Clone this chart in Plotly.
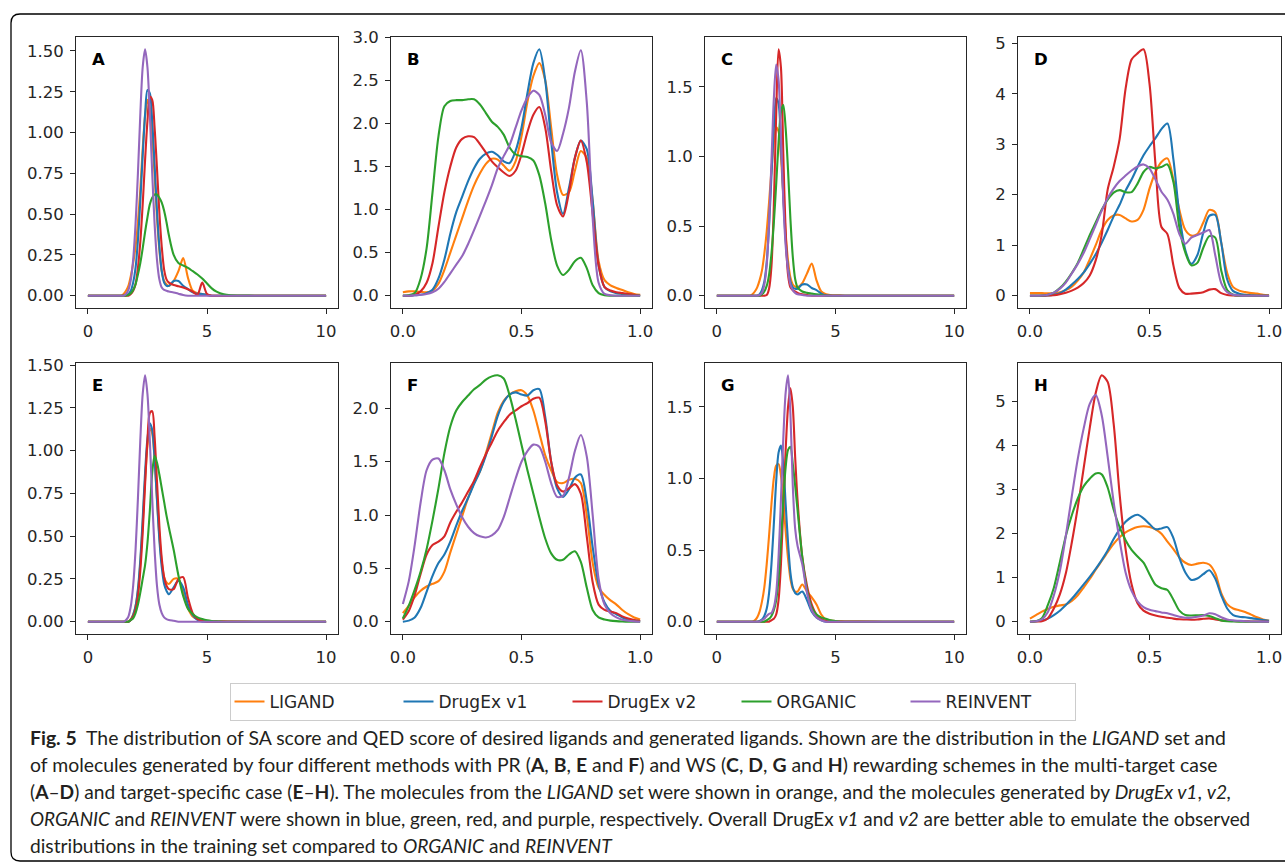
import plotly.graph_objects as go

W, H = 1285, 862

SERIES = ["LIGAND", "DrugEx v1", "DrugEx v2", "ORGANIC", "REINVENT"]
COLORS = ["#ff7f0e", "#1f77b4", "#d62728", "#2ca02c", "#9467bd"]

# SA score grid (panels A, C, E, G)
SA_X = [0, 1.0, 1.4, 1.5, 1.6, 1.7, 1.8, 1.9, 2.0, 2.1, 2.2, 2.3, 2.4, 2.5, 2.6, 2.7, 2.8, 2.9,
        3.0, 3.1, 3.2, 3.3, 3.4, 3.6, 3.8, 4.0, 4.2, 4.4, 4.6, 4.8, 5.0, 5.2, 5.4, 5.7, 6.0, 7.0, 10.0]
# QED score grid (panels B, D, F, H)
QED_X = [0.0, 0.025, 0.05, 0.075, 0.1, 0.125, 0.15, 0.175, 0.2, 0.225, 0.25, 0.275, 0.3, 0.325,
         0.35, 0.375, 0.4, 0.425, 0.45, 0.475, 0.5, 0.525, 0.55, 0.575, 0.6, 0.625, 0.65, 0.675,
         0.7, 0.725, 0.75, 0.775, 0.8, 0.825, 0.85, 0.875, 0.9, 0.925, 0.95, 0.975, 1.0]

# ---- Panel A (SA, PR, multi-target)
A_LIGAND = [0, 0, 0, 0.01, 0.03, 0.06, 0.12, 0.2, 0.3, 0.45, 0.65, 0.9, 1.1, 1.2, 1.15, 0.98, 0.74, 0.48,
            0.28, 0.15, 0.09, 0.07, 0.06, 0.09, 0.15, 0.23, 0.11, 0.03, 0.015, 0.01, 0.005, 0, 0, 0, 0, 0, 0]
A_V1 = [0, 0, 0, 0, 0.004, 0.01, 0.03, 0.08, 0.17, 0.34, 0.58, 0.86, 1.11, 1.26, 1.24, 1.07, 0.8, 0.52,
        0.3, 0.15, 0.08, 0.06, 0.06, 0.09, 0.09, 0.06, 0.04, 0.02, 0.012, 0.01, 0.005, 0, 0, 0, 0, 0, 0]
A_V2 = [0, 0, 0, 0, 0, 0, 0.01, 0.03, 0.07, 0.17, 0.33, 0.56, 0.83, 1.07, 1.22, 1.2, 1.03, 0.78,
        0.51, 0.3, 0.16, 0.1, 0.08, 0.065, 0.058, 0.05, 0.04, 0.025, 0.006, 0.08, 0.01, 0, 0, 0, 0, 0, 0]
A_ORGANIC = [0, 0, 0, 0, 0, 0.005, 0.015, 0.035, 0.07, 0.13, 0.2, 0.29, 0.39, 0.48, 0.56, 0.6, 0.62, 0.62,
             0.6, 0.57, 0.52, 0.45, 0.37, 0.25, 0.2, 0.185, 0.17, 0.15, 0.13, 0.105, 0.075, 0.045, 0.025,
             0.008, 0.002, 0, 0]
A_REINVENT = [0, 0, 0, 0, 0.01, 0.035, 0.095, 0.22, 0.44, 0.75, 1.11, 1.4, 1.51, 1.4, 1.11, 0.75, 0.44, 0.22,
              0.1, 0.05, 0.035, 0.03, 0.025, 0.02, 0.012, 0.004, 0, 0, 0, 0, 0, 0, 0, 0, 0, 0, 0]

# ---- Panel B (QED, PR, multi-target)
B_LIGAND = [0.04, 0.05, 0.05, 0.045, 0.04, 0.06, 0.14, 0.3, 0.5, 0.7, 0.9, 1.1, 1.28, 1.42, 1.53, 1.59,
            1.58, 1.51, 1.45, 1.56, 1.85, 2.25, 2.55, 2.7, 2.5, 1.95, 1.4, 1.17, 1.2, 1.45, 1.68, 1.6,
            1.1, 0.4, 0.18, 0.12, 0.09, 0.065, 0.04, 0.02, 0.01]
B_V1 = [0, 0, 0.005, 0.01, 0.03, 0.07, 0.2, 0.42, 0.72, 0.97, 1.15, 1.33, 1.48, 1.59, 1.65, 1.67, 1.63,
        1.56, 1.54, 1.68, 1.95, 2.35, 2.7, 2.86, 2.5, 1.8, 1.2, 0.95, 1.25, 1.6, 1.8, 1.7, 1.1, 0.35,
        0.1, 0.05, 0.03, 0.02, 0.01, 0.005, 0]
B_V2 = [0, 0, 0.01, 0.05, 0.15, 0.38, 0.8, 1.2, 1.5, 1.72, 1.82, 1.85, 1.84, 1.76, 1.66, 1.56, 1.49,
        1.43, 1.39, 1.45, 1.64, 1.9, 2.1, 2.19, 1.95, 1.45, 1.05, 0.92, 1.2, 1.6, 1.8, 1.55, 0.95, 0.35,
        0.1, 0.06, 0.04, 0.03, 0.02, 0.01, 0]
B_ORGANIC = [0, 0.005, 0.03, 0.2, 0.55, 1.2, 1.85, 2.2, 2.26, 2.27, 2.27, 2.28, 2.28, 2.22, 2.12, 2.02,
             1.96, 1.87, 1.72, 1.64, 1.62, 1.61, 1.57, 1.4, 1.07, 0.65, 0.35, 0.24, 0.3, 0.4, 0.44, 0.32,
             0.12, 0.03, 0.005, 0, 0, 0, 0, 0, 0]
B_REINVENT = [0, 0, 0.005, 0.01, 0.02, 0.04, 0.08, 0.16, 0.26, 0.36, 0.46, 0.6, 0.76, 0.93, 1.1, 1.28,
              1.48, 1.62, 1.75, 1.95, 2.15, 2.3, 2.38, 2.33, 2.1, 1.78, 1.68, 1.88, 2.18, 2.6, 2.85, 2.25,
              0.9, 0.15, 0.02, 0.005, 0, 0, 0, 0, 0]

# ---- Panel C (SA, WS, multi-target)
C_LIGAND = [0, 0, 0, 0.01, 0.03, 0.06, 0.11, 0.18, 0.3, 0.46, 0.67, 0.9, 1.1, 1.21, 1.18, 1.0, 0.72, 0.45,
            0.25, 0.13, 0.08, 0.065, 0.06, 0.09, 0.16, 0.23, 0.11, 0.03, 0.01, 0.005, 0.003, 0.002, 0, 0, 0, 0, 0]
C_V1 = [0, 0, 0, 0, 0, 0, 0.01, 0.04, 0.1, 0.24, 0.5, 0.86, 1.2, 1.42, 1.38, 1.1, 0.72, 0.4,
        0.2, 0.1, 0.06, 0.05, 0.05, 0.08, 0.08, 0.055, 0.04, 0.015, 0.003, 0, 0, 0, 0, 0, 0, 0, 0]
C_V2 = [0, 0, 0, 0, 0, 0, 0, 0, 0, 0.005, 0.05, 0.21, 0.64, 1.3, 1.77, 1.64, 1.02, 0.45,
        0.15, 0.06, 0.04, 0.03, 0.02, 0.01, 0.005, 0, 0, 0, 0, 0, 0, 0, 0, 0, 0, 0, 0]
C_ORGANIC = [0, 0, 0, 0, 0, 0, 0, 0.01, 0.03, 0.07, 0.15, 0.3, 0.52, 0.8, 1.1, 1.32, 1.37, 1.2,
             0.9, 0.55, 0.28, 0.12, 0.06, 0.03, 0.02, 0.015, 0.01, 0.005, 0, 0, 0, 0, 0, 0, 0, 0, 0]
C_REINVENT = [0, 0, 0, 0, 0, 0, 0.005, 0.02, 0.08, 0.22, 0.52, 0.96, 1.41, 1.66, 1.55, 1.15, 0.68, 0.36,
              0.18, 0.08, 0.04, 0.02, 0.01, 0.005, 0, 0, 0, 0, 0, 0, 0, 0, 0, 0, 0, 0, 0]

# ---- Panel D (QED, WS, multi-target)
D_LIGAND = [0.05, 0.05, 0.05, 0.045, 0.05, 0.07, 0.11, 0.18, 0.3, 0.46, 0.72, 1.0, 1.3, 1.5, 1.59, 1.6,
            1.53, 1.47, 1.5, 1.7, 2.12, 2.45, 2.65, 2.72, 2.3, 1.7, 1.3, 1.19, 1.22, 1.45, 1.7, 1.65,
            1.05, 0.45, 0.17, 0.1, 0.07, 0.05, 0.04, 0.02, 0.01]
D_V1 = [0, 0, 0, 0.005, 0.02, 0.05, 0.12, 0.22, 0.33, 0.46, 0.63, 0.82, 1.05, 1.3, 1.57, 1.8, 2.08,
        2.3, 2.55, 2.78, 2.96, 3.12, 3.3, 3.41, 2.7, 1.6, 0.9, 0.63, 0.8, 1.25, 1.58, 1.6, 1.05, 0.32,
        0.09, 0.04, 0.02, 0.01, 0, 0, 0]
D_V2 = [0, 0, 0, 0.005, 0.01, 0.03, 0.06, 0.1, 0.16, 0.25, 0.4, 0.7, 1.2, 2.1, 2.55, 3.1, 4.1, 4.68,
        4.8, 4.88, 4.2, 2.6, 1.36, 1.22, 0.6, 0.15, 0.04, 0.04, 0.05, 0.07, 0.12, 0.13, 0.05, 0.015,
        0.005, 0, 0, 0, 0, 0, 0]
D_ORGANIC = [0, 0, 0.005, 0.02, 0.06, 0.15, 0.28, 0.45, 0.65, 0.92, 1.2, 1.45, 1.7, 1.9, 2.04, 2.09,
             2.05, 2.05, 2.22, 2.45, 2.55, 2.52, 2.55, 2.6, 2.25, 1.35, 0.85, 0.6, 0.65, 0.95, 1.18, 1.15,
             0.5, 0.11, 0.02, 0.005, 0, 0, 0, 0, 0]
D_REINVENT = [0, 0, 0.005, 0.02, 0.06, 0.14, 0.26, 0.44, 0.63, 0.85, 1.12, 1.4, 1.68, 1.93, 2.12, 2.27,
              2.38, 2.48, 2.56, 2.6, 2.52, 2.3, 2.06, 1.9, 1.62, 1.22, 1.03, 1.15, 1.2, 1.25, 1.3, 0.8,
              0.25, 0.07, 0.02, 0.005, 0, 0, 0, 0, 0]

# ---- Panel E (SA, PR, target-specific)
E_LIGAND = [0, 0, 0, 0, 0, 0, 0.015, 0.04, 0.09, 0.18, 0.34, 0.57, 0.83, 1.03, 1.13, 1.1, 0.95, 0.72,
            0.5, 0.35, 0.26, 0.23, 0.22, 0.25, 0.25, 0.17, 0.08, 0.03, 0.015, 0.01, 0.005, 0.004, 0.003,
            0.003, 0.002, 0, 0]
E_V1 = [0, 0, 0, 0, 0, 0, 0.01, 0.04, 0.09, 0.19, 0.36, 0.6, 0.87, 1.07, 1.16, 1.12, 0.95, 0.71,
        0.48, 0.32, 0.22, 0.18, 0.16, 0.2, 0.24, 0.2, 0.1, 0.04, 0.01, 0, 0, 0, 0, 0, 0, 0, 0]
E_V2 = [0, 0, 0, 0, 0, 0, 0.01, 0.03, 0.07, 0.15, 0.3, 0.52, 0.8, 1.06, 1.22, 1.23, 1.08, 0.82,
        0.56, 0.37, 0.26, 0.21, 0.19, 0.19, 0.25, 0.26, 0.14, 0.05, 0.015, 0.005, 0, 0, 0, 0, 0, 0, 0]
E_ORGANIC = [0, 0, 0, 0, 0, 0, 0.01, 0.02, 0.05, 0.1, 0.17, 0.25, 0.33, 0.46, 0.65, 0.87, 0.97, 0.93,
             0.86, 0.78, 0.7, 0.62, 0.55, 0.42, 0.27, 0.15, 0.075, 0.045, 0.025, 0.015, 0.008, 0.004,
             0.002, 0, 0, 0, 0]
E_REINVENT = [0, 0, 0, 0, 0.01, 0.03, 0.09, 0.21, 0.42, 0.72, 1.06, 1.33, 1.44, 1.33, 1.06, 0.72, 0.42, 0.21,
              0.1, 0.05, 0.025, 0.015, 0.01, 0.005, 0, 0, 0, 0, 0, 0, 0, 0, 0, 0, 0, 0, 0]

# ---- Panel F (QED, PR, target-specific)
F_LIGAND = [0.08, 0.15, 0.23, 0.29, 0.33, 0.355, 0.38, 0.47, 0.65, 0.82, 0.99, 1.16, 1.3, 1.41, 1.58,
            1.77, 1.96, 2.07, 2.13, 2.16, 2.17, 2.12, 1.98, 1.77, 1.56, 1.42, 1.31, 1.3, 1.33, 1.34, 1.3,
            1.0, 0.55, 0.32, 0.25, 0.2, 0.16, 0.11, 0.07, 0.04, 0.02]
F_V1 = [0, 0.01, 0.04, 0.13, 0.28, 0.43, 0.55, 0.63, 0.75, 0.9, 1.04, 1.16, 1.29, 1.41, 1.56, 1.74, 1.93,
        2.06, 2.13, 2.15, 2.13, 2.12, 2.17, 2.18, 1.92, 1.5, 1.25, 1.17, 1.24, 1.35, 1.38, 1.13, 0.7,
        0.35, 0.18, 0.1, 0.07, 0.04, 0.02, 0.01, 0.005]
F_V2 = [0.02, 0.1, 0.25, 0.45, 0.63, 0.72, 0.75, 0.8, 0.93, 1.03, 1.12, 1.22, 1.32, 1.45, 1.57, 1.68,
        1.79, 1.87, 1.94, 1.98, 2.02, 2.05, 2.09, 2.1, 1.88, 1.5, 1.28, 1.22, 1.25, 1.29, 1.2, 0.8,
        0.37, 0.16, 0.11, 0.095, 0.08, 0.05, 0.03, 0.015, 0.005]
F_ORGANIC = [0.03, 0.15, 0.3, 0.47, 0.68, 0.95, 1.25, 1.58, 1.83, 1.98, 2.06, 2.12, 2.18, 2.22, 2.27,
             2.3, 2.31, 2.28, 2.12, 1.9, 1.66, 1.42, 1.2, 0.98, 0.78, 0.64, 0.58, 0.58, 0.63, 0.66, 0.56,
             0.32, 0.11, 0.04, 0.02, 0.01, 0.005, 0.002, 0, 0, 0]
F_REINVENT = [0.165, 0.38, 0.72, 1.12, 1.42, 1.52, 1.53, 1.42, 1.24, 1.1, 0.98, 0.89, 0.83, 0.8, 0.79,
              0.81, 0.86, 0.98, 1.16, 1.34, 1.5, 1.6, 1.66, 1.64, 1.5, 1.3, 1.17, 1.18, 1.35, 1.6, 1.75,
              1.55, 1.0, 0.4, 0.16, 0.08, 0.04, 0.018, 0.008, 0.003, 0]

# ---- Panel G (SA, WS, target-specific)
G_LIGAND = [0, 0, 0, 0, 0.01, 0.03, 0.07, 0.14, 0.24, 0.4, 0.6, 0.82, 1.0, 1.09, 1.1, 1.02, 0.85, 0.63,
            0.44, 0.3, 0.23, 0.21, 0.21, 0.26, 0.21, 0.17, 0.12, 0.05, 0.015, 0.008, 0.005, 0.004, 0.003,
            0.003, 0.002, 0, 0]
G_V1 = [0, 0, 0, 0, 0, 0, 0.005, 0.015, 0.04, 0.09, 0.2, 0.4, 0.68, 0.98, 1.18, 1.23, 1.1, 0.82,
        0.55, 0.34, 0.24, 0.2, 0.19, 0.21, 0.15, 0.07, 0.03, 0.01, 0, 0, 0, 0, 0, 0, 0, 0, 0]
G_V2 = [0, 0, 0, 0, 0, 0, 0, 0, 0, 0, 0, 0.01, 0.02, 0.05, 0.15, 0.4, 0.8, 1.2,
        1.5, 1.63, 1.5, 1.15, 0.85, 0.45, 0.25, 0.12, 0.05, 0.02, 0.005, 0, 0, 0, 0, 0, 0, 0, 0]
G_ORGANIC = [0, 0, 0, 0, 0, 0, 0, 0, 0, 0.01, 0.02, 0.04, 0.08, 0.15, 0.3, 0.55, 0.85, 1.08,
             1.2, 1.22, 1.1, 0.95, 0.78, 0.45, 0.22, 0.1, 0.05, 0.03, 0.02, 0.01, 0.005, 0, 0, 0, 0, 0, 0]
G_REINVENT = [0, 0, 0, 0, 0, 0, 0, 0.01, 0.02, 0.04, 0.055, 0.06, 0.1, 0.2, 0.45, 0.85, 1.28, 1.6,
              1.72, 1.45, 0.95, 0.65, 0.53, 0.4, 0.2, 0.08, 0.03, 0.01, 0, 0, 0, 0, 0, 0, 0, 0, 0]

# ---- Panel H (QED, WS, target-specific)
H_LIGAND = [0.07, 0.15, 0.23, 0.29, 0.34, 0.37, 0.39, 0.47, 0.6, 0.78, 0.97, 1.18, 1.38, 1.58, 1.77,
            1.92, 2.03, 2.1, 2.15, 2.17, 2.15, 2.1, 2.0, 1.82, 1.65, 1.46, 1.34, 1.29, 1.32, 1.34, 1.3,
            1.1, 0.65, 0.4, 0.3, 0.26, 0.22, 0.16, 0.1, 0.05, 0.02]
H_V1 = [0, 0.01, 0.025, 0.07, 0.15, 0.25, 0.38, 0.52, 0.68, 0.85, 1.02, 1.2, 1.4, 1.62, 1.88, 2.1, 2.27,
        2.38, 2.43, 2.35, 2.22, 2.1, 2.12, 2.15, 1.9, 1.45, 1.12, 0.95, 0.98, 1.08, 1.17, 0.98, 0.6,
        0.3, 0.15, 0.11, 0.1, 0.08, 0.06, 0.04, 0.02]
H_V2 = [0, 0.005, 0.01, 0.08, 0.3, 0.62, 1.1, 1.8, 2.6, 3.5, 4.4, 5.2, 5.6, 5.45, 4.5, 2.9, 1.65, 0.85,
        0.42, 0.25, 0.18, 0.14, 0.11, 0.09, 0.07, 0.055, 0.05, 0.045, 0.05, 0.065, 0.075, 0.05, 0.03,
        0.02, 0.015, 0.01, 0.008, 0.005, 0.003, 0.002, 0]
H_ORGANIC = [0, 0.01, 0.08, 0.38, 0.77, 1.35, 1.95, 2.42, 2.8, 3.08, 3.25, 3.37, 3.35, 3.05, 2.55, 2.15,
             1.85, 1.63, 1.48, 1.34, 1.08, 0.84, 0.76, 0.72, 0.5, 0.25, 0.15, 0.14, 0.145, 0.15, 0.13,
             0.08, 0.03, 0.01, 0.005, 0, 0, 0, 0, 0, 0]
H_REINVENT = [0, 0.01, 0.05, 0.22, 0.6, 1.15, 1.95, 2.85, 3.7, 4.4, 4.95, 5.15, 4.7, 3.75, 2.72, 1.85,
              1.12, 0.7, 0.46, 0.33, 0.27, 0.24, 0.21, 0.19, 0.15, 0.11, 0.09, 0.09, 0.11, 0.14, 0.19,
              0.17, 0.1, 0.05, 0.03, 0.02, 0.01, 0.005, 0.003, 0.001, 0]

SA_XTICKS = [0, 5, 10]
QED_XTICKS = [0.0, 0.5, 1.0]

panels = [
    ("A", SA_X, [A_LIGAND, A_V1, A_V2, A_ORGANIC, A_REINVENT]),
    ("B", QED_X, [B_LIGAND, B_V1, B_V2, B_ORGANIC, B_REINVENT]),
    ("C", SA_X, [C_LIGAND, C_V1, C_V2, C_ORGANIC, C_REINVENT]),
    ("D", QED_X, [D_LIGAND, D_V1, D_V2, D_ORGANIC, D_REINVENT]),
    ("E", SA_X, [E_LIGAND, E_V1, E_V2, E_ORGANIC, E_REINVENT]),
    ("F", QED_X, [F_LIGAND, F_V1, F_V2, F_ORGANIC, F_REINVENT]),
    ("G", SA_X, [G_LIGAND, G_V1, G_V2, G_ORGANIC, G_REINVENT]),
    ("H", QED_X, [H_LIGAND, H_V1, H_V2, H_ORGANIC, H_REINVENT]),
]
# y tick settings per panel (step, format)
YTICK = {"A": (0.25, ".2f"), "B": (0.5, ".1f"), "C": (0.5, ".1f"), "D": (1, "d"),
         "E": (0.25, ".2f"), "F": (0.5, ".1f"), "G": (0.5, ".1f"), "H": (1, "d")}

# layout geometry in pixels
COL_PX = [(76, 338), (391, 652), (705, 966), (1018, 1281)]
ROW_PX = [(37, 308), (363, 634)]

AXC = "#262626"
TICKFONT = dict(family="DejaVu Sans", size=16.5, color=AXC)

fig = go.Figure()
layout = dict(width=W, height=H, margin=dict(l=0, r=0, t=0, b=0, pad=0, autoexpand=False),
              autosize=False, paper_bgcolor="white", plot_bgcolor="white", showlegend=True)
annotations = []

for i, (letter, xs, ys_list) in enumerate(panels):
    n = i + 1
    xa = "x" if n == 1 else f"x{n}"
    ya = "y" if n == 1 else f"y{n}"
    for j, ys in enumerate(ys_list):
        fig.add_trace(go.Scatter(
            x=xs, y=ys, mode="lines", name=SERIES[j],
            line=dict(color=COLORS[j], width=2.1, shape="spline", smoothing=0.8),
            showlegend=(i == 0), legendgroup=SERIES[j],
            xaxis=xa, yaxis=ya, hoverinfo="skip"))
    r, c = divmod(i, 4)
    x0, x1 = COL_PX[c]
    y0, y1 = ROW_PX[r]
    is_sa = xs is SA_X
    ymax = max(max(v) for v in ys_list)
    yr = [-0.05 * ymax, 1.05 * ymax]
    xr = [-0.5, 10.5] if is_sa else [-0.05, 1.05]
    common = dict(showline=True, linecolor=AXC, linewidth=1.1, mirror=True, ticks="outside",
                  ticklen=5, tickwidth=1.1, tickcolor=AXC, showgrid=False, zeroline=False,
                  tickfont=TICKFONT, fixedrange=True, ticklabelstandoff=3, automargin=False)
    layout["xaxis" if n == 1 else f"xaxis{n}"] = dict(
        common, domain=[x0 / W, x1 / W], range=xr, anchor=ya,
        tickvals=SA_XTICKS if is_sa else QED_XTICKS,
        tickformat="d" if is_sa else ".1f")
    step, fmt = YTICK[letter]
    layout["yaxis" if n == 1 else f"yaxis{n}"] = dict(
        common, domain=[1 - y1 / H, 1 - y0 / H], range=yr, anchor=xa,
        tick0=0, dtick=step, tickformat=fmt)
    annotations.append(dict(
        text=f"<b>{letter}</b>", xref=f"{xa} domain", yref=f"{ya} domain",
        x=14 / (x1 - x0), y=1 - 22 / (y1 - y0), xanchor="left", yanchor="middle",
        showarrow=False, font=dict(family="DejaVu Sans", size=16.5, color="black")))

CAPTION = [
    "<b>Fig. 5</b>\u00a0\u00a0The distribution of SA score and QED score of desired ligands and generated ligands. "
    "Shown are the distribution in the <i>LIGAND</i> set and",
    "of molecules generated by four different methods with PR (<b>A</b>, <b>B</b>, <b>E</b> and <b>F</b>) "
    "and WS (<b>C</b>, <b>D</b>, <b>G</b> and <b>H</b>) rewarding schemes in the multi-target case",
    "(<b>A</b>\u2013<b>D</b>) and target-specific case (<b>E</b>\u2013<b>H</b>). The molecules from the "
    "<i>LIGAND</i> set were shown in orange, and the molecules generated by <i>DrugEx v1</i>, <i>v2,</i>",
    "<i>ORGANIC</i> and <i>REINVENT</i> were shown in blue, green, red, and purple, respectively. "
    "Overall DrugEx <i>v1</i> and <i>v2</i> are better able to emulate the observed",
    "distributions in the training set compared to <i>ORGANIC</i> and <i>REINVENT</i>",
]
CAP_Y = [737, 764, 791, 818, 845]
CAP_SIZE = [19.4, 19.4, 19.2, 18.9, 19.2]
for text, yp, fs in zip(CAPTION, CAP_Y, CAP_SIZE):
    annotations.append(dict(
        text=text, xref="paper", yref="paper", x=28 / W, y=1 - yp / H,
        xanchor="left", yanchor="middle", showarrow=False,
        font=dict(family="Lato", size=fs, color="#231f20")))

layout["annotations"] = annotations
layout["legend"] = dict(
    orientation="h", x=652.5 / W, xanchor="center", y=1 - 683 / H, yanchor="top",
    bordercolor="#cccccc", borderwidth=1, bgcolor="white",
    font=dict(family="DejaVu Sans", size=17, color="#262626"),
    itemwidth=30, tracegroupgap=0, entrywidth=124, entrywidthmode="pixels")

# outer frame with rounded corners (left side only visible)
def px(x, y):
    return f"{x / W:.5f},{1 - y / H:.5f}"

frame = (f"M {px(1300, 14)} L {px(20, 14)} Q {px(11, 14)} {px(11, 23)} "
         f"L {px(11, 852)} Q {px(11, 861)} {px(20, 861)} L {px(1300, 861)}")
layout["shapes"] = [dict(type="path", xref="paper", yref="paper", path=frame,
                         line=dict(color="black", width=1.3))]

fig.update_layout(**layout)
fig.write_html("out.html")
